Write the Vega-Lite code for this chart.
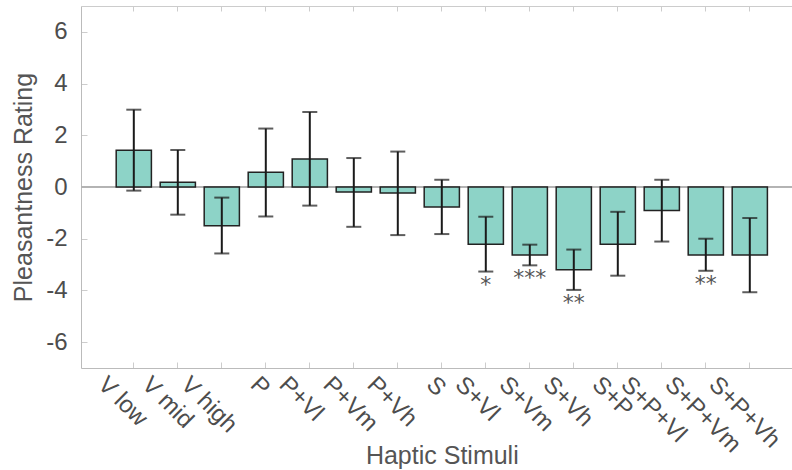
{
  "$schema": "https://vega.github.io/schema/vega-lite/v6.json",
  "autosize": {"type": "none"},
  "padding": {"left": 81, "top": 6, "right": 0, "bottom": 102},
  "width": 711,
  "height": 362,
  "config": {"view": {"stroke": null}, "font": "Liberation Sans",
    "axisY": {"labelFontSize": 24, "labelColor": "#4d4d4d", "labelPadding": 20, "tickSize": -6, "tickColor": "#cccccc", "domainColor": "#bbbbbb", "grid": false,
      "labelExpr": "replace(datum.label, '\u2212', '-')",
      "titleFontSize": 25, "titleFontWeight": "normal", "titleColor": "#555555", "titleBaseline": "alphabetic", "titleX": -50}},
  "data": {"values": [
    {"stim": "V low", "mean": 1.42, "lo": -0.14, "hi": 2.99, "sig": ""},
    {"stim": "V mid", "mean": 0.18, "lo": -1.07, "hi": 1.43, "sig": ""},
    {"stim": "V high", "mean": -1.5, "lo": -2.57, "hi": -0.41, "sig": ""},
    {"stim": "P", "mean": 0.57, "lo": -1.14, "hi": 2.26, "sig": ""},
    {"stim": "P+Vl", "mean": 1.08, "lo": -0.72, "hi": 2.9, "sig": ""},
    {"stim": "P+Vm", "mean": -0.19, "lo": -1.54, "hi": 1.12, "sig": ""},
    {"stim": "P+Vh", "mean": -0.23, "lo": -1.86, "hi": 1.37, "sig": ""},
    {"stim": "S", "mean": -0.77, "lo": -1.82, "hi": 0.28, "sig": ""},
    {"stim": "S+Vl", "mean": -2.21, "lo": -3.27, "hi": -1.15, "sig": "*"},
    {"stim": "S+Vm", "mean": -2.63, "lo": -3.03, "hi": -2.23, "sig": "***"},
    {"stim": "S+Vh", "mean": -3.2, "lo": -3.98, "hi": -2.42, "sig": "**"},
    {"stim": "S+P", "mean": -2.21, "lo": -3.43, "hi": -0.96, "sig": ""},
    {"stim": "S+P+Vl", "mean": -0.91, "lo": -2.11, "hi": 0.28, "sig": ""},
    {"stim": "S+P+Vm", "mean": -2.63, "lo": -3.24, "hi": -2.0, "sig": "**"},
    {"stim": "S+P+Vh", "mean": -2.63, "lo": -4.07, "hi": -1.2, "sig": ""}
  ]},
  "resolve": {"axis": {"x": "independent"}},
  "layer": [
    {
      "mark": {"type": "rule", "color": "#b3b3b3", "strokeWidth": 1},
      "encoding": {
        "y": {"datum": 0, "type": "quantitative", "scale": {"domain": [-7, 7], "nice": false, "zero": false},
          "axis": {"title": "Pleasantness Rating", "values": [-6, -4, -2, 0, 2, 4, 6]}}
      }
    },
    {
      "mark": {"type": "bar", "fill": "#8dd3c7", "stroke": "#222222", "strokeWidth": 1.5},
      "encoding": {
        "x": {"field": "stim", "type": "nominal", "sort": null,
          "scale": {"range": [0, 721.6], "paddingInner": 0.2, "paddingOuter": 0.8},
          "axis": {"orient": "bottom", "title": "Haptic Stimuli", "titleFontSize": 25, "titleFontWeight": "normal", "titleColor": "#555555", "titleBaseline": "alphabetic", "titleY": 95,
            "labelAngle": 45, "labelAlign": "left", "labelBaseline": "top", "labelFontSize": 24, "labelColor": "#4d4d4d", "labelPadding": 10,
            "labelOffset": {"expr": "2 - 5.1*length(datum.label)"},
            "labelOverlap": false, "labelBound": false, "labelFlush": false, "labelLimit": 0,
            "tickSize": -6, "tickColor": "#cccccc", "domainColor": "#bbbbbb", "grid": false}},
        "y": {"field": "mean", "type": "quantitative",
          "scale": {"domain": [-7, 7], "nice": false, "zero": false},
          "axis": {"title": "Pleasantness Rating", "values": [-6, -4, -2, 0, 2, 4, 6]}}
      }
    },
    {
      "mark": {"type": "rule", "color": "#1a1a1a", "strokeWidth": 2},
      "encoding": {
        "x": {"field": "stim", "type": "nominal", "sort": null,
          "scale": {"range": [0, 721.6], "paddingInner": 0.2, "paddingOuter": 0.8},
          "axis": {"orient": "top", "labels": false, "title": null, "tickSize": -5, "tickColor": "#cccccc", "domainColor": "#cccccc", "grid": false}},
        "y": {"field": "lo", "type": "quantitative", "axis": {"title": "Pleasantness Rating", "values": [-6, -4, -2, 0, 2, 4, 6]}},
        "y2": {"field": "hi"}
      }
    },
    {
      "mark": {"type": "tick", "size": 15, "thickness": 2, "color": "#1a1a1a"},
      "encoding": {
        "x": {"field": "stim", "type": "nominal", "sort": null, "axis": null},
        "y": {"field": "lo", "type": "quantitative", "axis": {"title": "Pleasantness Rating", "values": [-6, -4, -2, 0, 2, 4, 6]}}
      }
    },
    {
      "mark": {"type": "tick", "size": 15, "thickness": 2, "color": "#1a1a1a"},
      "encoding": {
        "x": {"field": "stim", "type": "nominal", "sort": null, "axis": null},
        "y": {"field": "hi", "type": "quantitative", "axis": {"title": "Pleasantness Rating", "values": [-6, -4, -2, 0, 2, 4, 6]}}
      }
    },
    {
      "transform": [{"filter": "datum.sig != ''"}],
      "mark": {"type": "text", "font": "DejaVu Sans", "fontSize": 22, "color": "#555555", "baseline": "alphabetic", "dy": 20},
      "encoding": {
        "x": {"field": "stim", "type": "nominal", "sort": null, "axis": null},
        "y": {"field": "lo", "type": "quantitative", "axis": {"title": "Pleasantness Rating", "values": [-6, -4, -2, 0, 2, 4, 6]}},
        "text": {"field": "sig"}
      }
    }
  ]
}
